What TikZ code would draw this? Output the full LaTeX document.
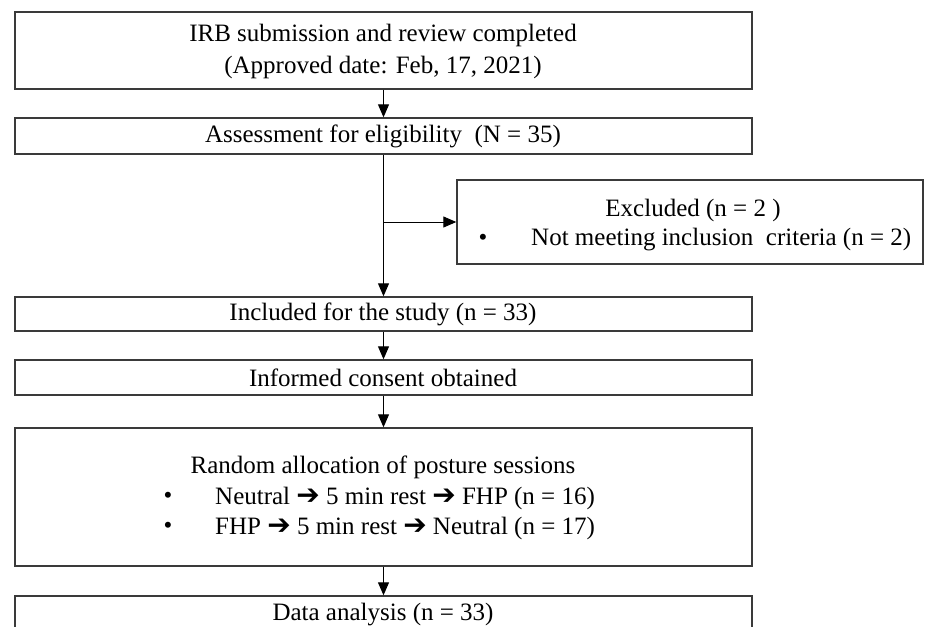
\documentclass[tikz,border=0pt]{standalone}
\usepackage{fontspec}
\setmainfont{Liberation Serif}
\newfontfamily\symfont{DejaVu Sans}
\usetikzlibrary{arrows.meta}
\definecolor{boxgray}{HTML}{3A3A3A}
\newcommand{\rarr}{{\symfont\fontsize{28}{28}\selectfont ➔}}
\begin{document}
\begin{tikzpicture}[x=1pt,y=-1pt,
  box/.style={draw=boxgray, line width=1.4pt, inner sep=0pt, minimum width=737pt},
  txt/.style={font=\fontsize{25}{32}\selectfont, inner sep=0pt, text=black},
  arr/.style={-{Triangle[length=13pt,width=11pt]}, line width=1pt, black}]
\clip (0,0) rectangle (925,626);
\useasboundingbox (0,0) rectangle (925,626);
\fill[white] (0,0) rectangle (925,626);
% boxes
\node[box, minimum height=77pt] (irb) at (383.5,50.5) {};
\node[box, minimum height=36pt] (assess) at (383.5,136) {};
\node[box, minimum width=466pt, minimum height=84pt] (excl) at (690,222) {};
\node[box, minimum height=34pt] (incl) at (383.5,314) {};
\node[box, minimum height=35pt] (cons) at (383.5,377.5) {};
\node[box, minimum height=138pt] (rand) at (383.5,497) {};
\node[box, minimum height=60pt] (data) at (383.5,626) {};
% texts
\node[txt, align=center] (t1) at (383,51) {IRB submission and review completed\\(Approved date: Feb, 17, 2021)};
\node[txt] (t2) at (383,136) {Assessment for eligibility\ \ (N = 35)};
\node[txt] (t3) at (693,210) {Excluded (n = 2 )};
\node[txt] (b1) at (483,240) {•};
\node[txt, anchor=west] (t4) at (531,240) {Not meeting inclusion\ \ criteria (n = 2)};
\node[txt] (t5) at (383,314) {Included for the study (n = 33)};
\node[txt] (t6) at (383,378) {Informed consent obtained};
\node[txt] (t7) at (383,467) {Random allocation of posture sessions};
\node[txt] (b2) at (168,498) {•};
\node[txt, anchor=west] (t8) at (215,498) {Neutral \rarr\ 5 min rest \rarr\ FHP (n = 16)};
\node[txt] (b3) at (168,528) {•};
\node[txt, anchor=west] (t9) at (215,528) {FHP \rarr\ 5 min rest \rarr\ Neutral (n = 17)};
\node[txt] (t10) at (383,615) {Data analysis (n = 33)};
% connectors
\draw[arr] (irb.south) -- (assess.north);
\draw[arr] (assess.south) -- (incl.north);
\coordinate (br) at (384,222);
\draw[arr] (br) -- (excl.west);
\draw[arr] (incl.south) -- (cons.north);
\draw[arr] (cons.south) -- (rand.north);
\draw[arr] (rand.south) -- (data.north);
\end{tikzpicture}
\end{document}
